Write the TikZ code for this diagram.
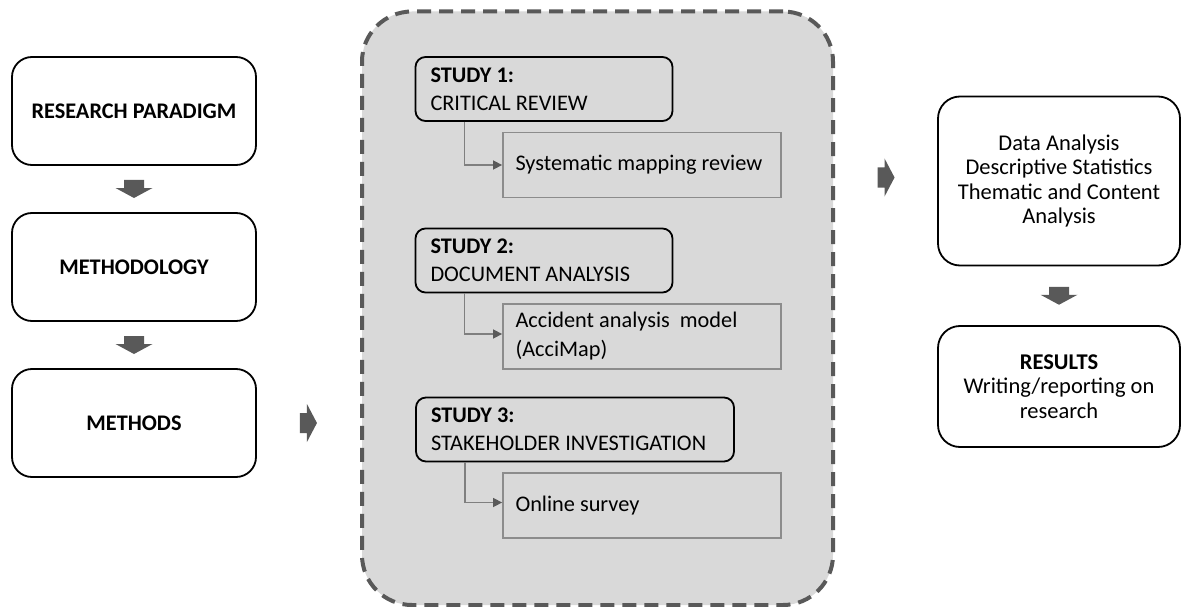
\documentclass[tikz,border=0pt]{standalone}
\usepackage{fontspec}
\setmainfont{Carlito}
\usetikzlibrary{calc,arrows.meta}
\definecolor{bggray}{HTML}{D9D9D9}
\definecolor{dashgray}{HTML}{595959}
\definecolor{arrgray}{HTML}{595959}
\definecolor{subgray}{HTML}{8C8C8C}
\definecolor{linegray}{HTML}{7F7F7F}
\begin{document}
\begin{tikzpicture}[x=1pt,y=-1pt,
  mainbox/.style={draw=black,line width=1.8pt,rounded corners=20pt,minimum width=244pt,minimum height=108pt,inner sep=0pt,align=center,font=\fontsize{22.3}{25}\selectfont\bfseries},
  rightbox/.style={draw=black,line width=1.8pt,rounded corners=22pt,minimum width=242pt,inner sep=0pt,align=center,font=\fontsize{22.5}{24.5}\selectfont},
  studybox/.style={draw=black,line width=1.8pt,rounded corners=10pt,minimum height=64pt,inner xsep=15pt,inner ysep=0pt,align=flush left,font=\fontsize{22.3}{28}\selectfont},
  subbox/.style={draw=subgray,line width=1.8pt,minimum height=65pt,inner xsep=12.5pt,inner ysep=0pt,text width=253pt,align=flush left,font=\fontsize{22.3}{29}\selectfont},
  bigbox/.style={draw=dashgray,fill=bggray,line width=4pt,dash pattern=on 14pt off 8pt,rounded corners=50pt,minimum width=471pt,minimum height=593.5pt,inner sep=0pt},
  conn/.style={draw=linegray,line width=1.5pt,-{Triangle[length=9pt,width=9pt,color=arrgray]}},
  downblock/.pic={\fill[arrgray] (-10,-9) -- (10,-9) -- (10,-1) -- (18.5,-1) -- (0,9) -- (-18.5,-1) -- (-10,-1) -- cycle;},
  rightblock/.pic={\fill[arrgray] (-8.5,-10) -- (-1.5,-10) -- (-1.5,-19) -- (8.5,0) -- (-1.5,19) -- (-1.5,10) -- (-8.5,10) -- cycle;}
]
\useasboundingbox (0,0) rectangle (1181,607);

% left column
\node[mainbox] (rp) at (134,111) {RESEARCH PARADIGM};
\node[mainbox] (mt) at (134,267) {METHODOLOGY};
\node[mainbox] (ms) at (134,423) {METHODS};
\pic at ($(rp.south)!0.5!(mt.north)$) {downblock};
\pic at ($(mt.south)!0.5!(ms.north)$) {downblock};

% central dashed container
\node[bigbox] (big) at (597.5,308.25) {};
\pic at ($(ms.east)!0.5!(ms.east -| big.west)$) {rightblock};

% studies
\node[studybox,text width=227pt] (s1) at (544,89) {\textbf{STUDY 1:}\\CRITICAL REVIEW};
\node[subbox] (sys) at (642,165) {Systematic mapping review};
\node[studybox,text width=227pt] (s2) at (544,260.5) {\textbf{STUDY 2:}\\DOCUMENT ANALYSIS};
\node[subbox] (acc) at (642,336.5) {Accident analysis\ \ model\\(AcciMap)};
\node[studybox,text width=288pt] (s3) at (575,429.5) {\textbf{STUDY 3:}\\STAKEHOLDER INVESTIGATION};
\node[subbox] (onl) at (642,505.5) {Online survey};

\draw[conn] ($(s1.south west)+(50,0)$) |- (sys.west);
\draw[conn] ($(s2.south west)+(50,0)$) |- ($(acc.west)+(0,-2.5)$);
\draw[conn] ($(s3.south west)+(50,0)$) |- ($(onl.west)+(0,-3)$);

% right column
\node[rightbox,minimum height=169pt] (da) at (1059,181) {Data Analysis\\Descriptive Statistics\\Thematic and Content\\Analysis};
\node[rightbox,minimum height=121pt] (res) at (1059,386.5) {\textbf{RESULTS}\\Writing/reporting on\\research};
\pic at ($(big.east |- da.west)!0.5!(da.west)+(0,-3.5)$) {rightblock};
\pic at ($(da.south)!0.5!(res.north)$) {downblock};
\end{tikzpicture}
\end{document}
